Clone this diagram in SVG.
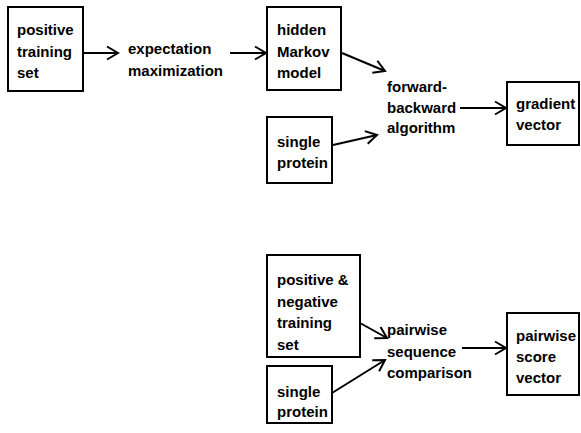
<svg xmlns="http://www.w3.org/2000/svg" width="581" height="433" viewBox="0 0 581 433">
<style>
.box{fill:#fff;stroke:#000;stroke-width:2}
text{font-family:"Liberation Sans",Arial,sans-serif;font-weight:bold;font-size:15px;fill:#000}
.c line{stroke:#000;stroke-width:2;marker-end:url(#ah)}
</style>
<defs>
<marker id="ah" markerUnits="userSpaceOnUse" viewBox="-12 -8 14 16" refX="0" refY="0" markerWidth="14" markerHeight="16" orient="auto">
<path d="M-11,-6.5 L0,0 L-11,6.5" fill="none" stroke="#000" stroke-width="2"/>
</marker>
</defs>
<rect width="581" height="433" fill="#fff"/>
<g id="n1"><rect class="box" x="8" y="7" width="75" height="84"/>
<text x="17" y="35">positive</text><text x="17" y="57">training</text><text x="17" y="78">set</text></g>
<g id="n2"><text x="128" y="54">expectation</text><text x="128" y="76">maximization</text></g>
<g id="n3"><rect class="box" x="267" y="7" width="74" height="83"/>
<text x="277" y="35">hidden</text><text x="277" y="57">Markov</text><text x="277" y="78">model</text></g>
<g id="n4"><rect class="box" x="267" y="117" width="65" height="66"/>
<text x="277" y="147">single</text><text x="277" y="168">protein</text></g>
<g id="n5"><text x="387" y="92">forward-</text><text x="387" y="113">backward</text><text x="387" y="133">algorithm</text></g>
<g id="n6"><rect class="box" x="507" y="82" width="72" height="63"/>
<text x="516" y="109">gradient</text><text x="516" y="130">vector</text></g>
<g id="n7"><rect class="box" x="267" y="255" width="93" height="102"/>
<text x="277" y="285">positive &amp;</text><text x="277" y="307">negative</text><text x="277" y="328">training</text><text x="277" y="350">set</text></g>
<g id="n8"><rect class="box" x="267" y="366" width="65" height="57"/>
<text x="277" y="397">single</text><text x="277" y="417">protein</text></g>
<g id="n9"><text x="387" y="335">pairwise</text><text x="387" y="357">sequence</text><text x="387" y="378">comparison</text></g>
<g id="n10"><rect class="box" x="507" y="313" width="72" height="82"/>
<text x="516" y="341">pairwise</text><text x="516" y="362">score</text><text x="516" y="383">vector</text></g>
<g id="connectors" class="c">
<line x1="83" y1="53" x2="118" y2="53"/>
<line x1="230" y1="53" x2="266" y2="53"/>
<line x1="342" y1="53" x2="385" y2="71"/>
<line x1="333" y1="145" x2="377" y2="135"/>
<line x1="460" y1="108" x2="506" y2="108"/>
<line x1="360" y1="323" x2="387" y2="338"/>
<line x1="332" y1="393" x2="385" y2="360"/>
<line x1="462" y1="348" x2="506" y2="348"/>
</g>
</svg>
